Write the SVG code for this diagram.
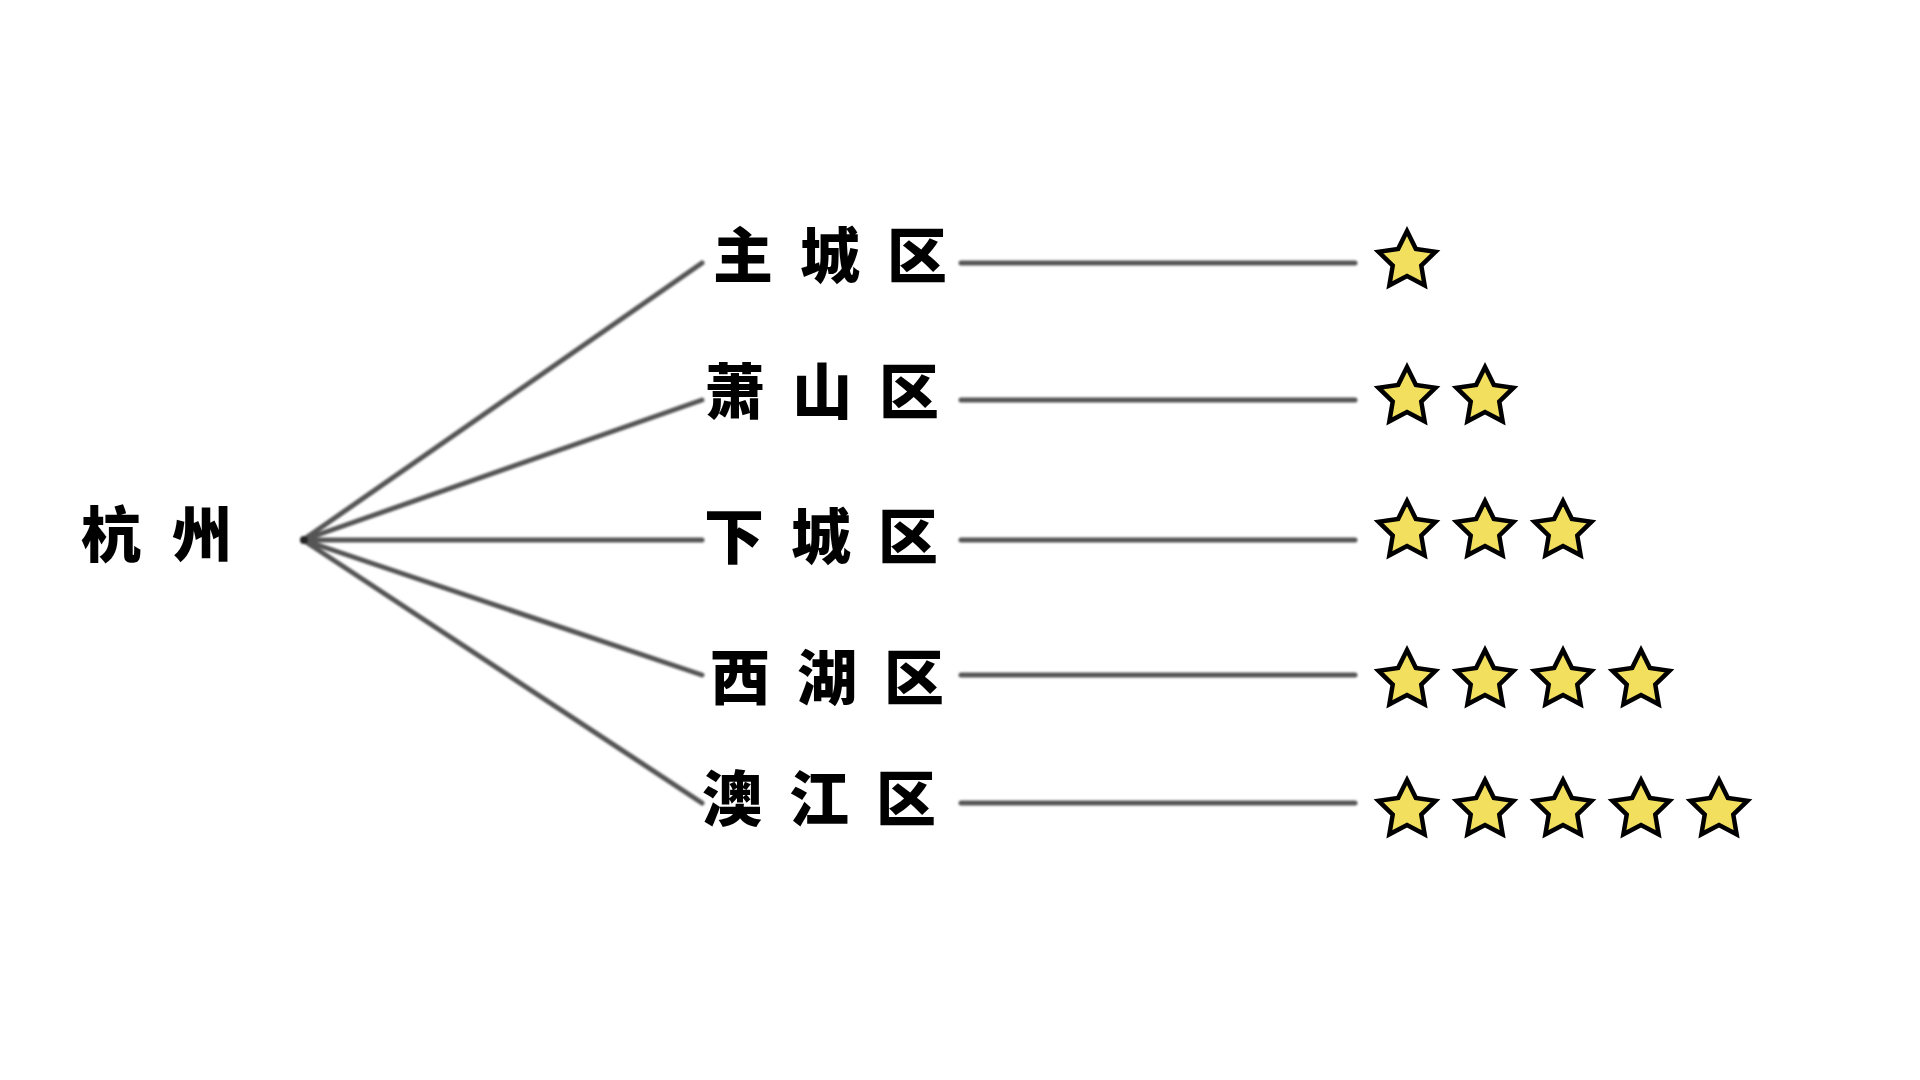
<svg xmlns="http://www.w3.org/2000/svg" width="1920" height="1080" viewBox="0 0 1920 1080">
<style>
.lbl{font-family:"Noto Sans CJK SC","Noto Sans CJK JP",sans-serif;font-weight:900;font-size:60px;fill:#000;dominant-baseline:central;letter-spacing:27px}
.root{letter-spacing:31px}
.ln{stroke:#555;stroke-width:5;stroke-linecap:round;fill:none}
.star{fill:#F2DF5E;stroke:#000;stroke-width:4.5;stroke-linejoin:miter}
</style>
<defs>
<filter id="blur" x="-5%" y="-20%" width="110%" height="140%"><feGaussianBlur stdDeviation="1.1"/></filter>
<path id="st" d="M0,-30 L8.82,-12.14 L28.53,-9.27 L14.27,4.64 L17.63,24.27 L0,15.00 L-17.63,24.27 L-14.27,4.64 L-28.53,-9.27 L-8.82,-12.14 Z"/>
</defs>
<rect width="1920" height="1080" fill="#fff"/>
<g id="connectors" filter="url(#blur)">
<line class="ln" x1="303" y1="540" x2="702" y2="263"/>
<line class="ln" x1="303" y1="540" x2="702" y2="400"/>
<line class="ln" x1="303" y1="540" x2="702" y2="540"/>
<line class="ln" x1="303" y1="540" x2="702" y2="675"/>
<line class="ln" x1="303" y1="540" x2="702" y2="803"/>
<line class="ln" x1="961" y1="263" x2="1355" y2="263"/>
<line class="ln" x1="961" y1="400" x2="1355" y2="400"/>
<line class="ln" x1="961" y1="540" x2="1355" y2="540"/>
<line class="ln" x1="961" y1="675" x2="1355" y2="675"/>
<line class="ln" x1="961" y1="803" x2="1355" y2="803"/>
<circle cx="304" cy="540" r="4" fill="#222"/>
</g>
<g id="n-hangzhou"><text class="lbl root" x="81" y="530">杭州</text></g>
<g id="n-zhucheng"><text class="lbl" x="713" y="251">主城区</text></g>
<g id="n-xiaoshan"><text class="lbl" x="705" y="387">萧山区</text></g>
<g id="n-xiacheng"><text class="lbl" x="704" y="532">下城区</text></g>
<g id="n-xihu"><text class="lbl" x="710" y="673">西湖区</text></g>
<g id="n-aojiang"><text class="lbl" x="702" y="794">澳江区</text></g>
<g id="stars-1" class="star"><use href="#st" x="1407" y="261"/></g>
<g id="stars-2" class="star"><use href="#st" x="1407" y="397"/><use href="#st" x="1485" y="397"/></g>
<g id="stars-3" class="star"><use href="#st" x="1407" y="531"/><use href="#st" x="1485" y="531"/><use href="#st" x="1563" y="531"/></g>
<g id="stars-4" class="star"><use href="#st" x="1407" y="680"/><use href="#st" x="1485" y="680"/><use href="#st" x="1563" y="680"/><use href="#st" x="1641" y="680"/></g>
<g id="stars-5" class="star"><use href="#st" x="1407" y="810"/><use href="#st" x="1485" y="810"/><use href="#st" x="1563" y="810"/><use href="#st" x="1641" y="810"/><use href="#st" x="1719" y="810"/></g>
</svg>
